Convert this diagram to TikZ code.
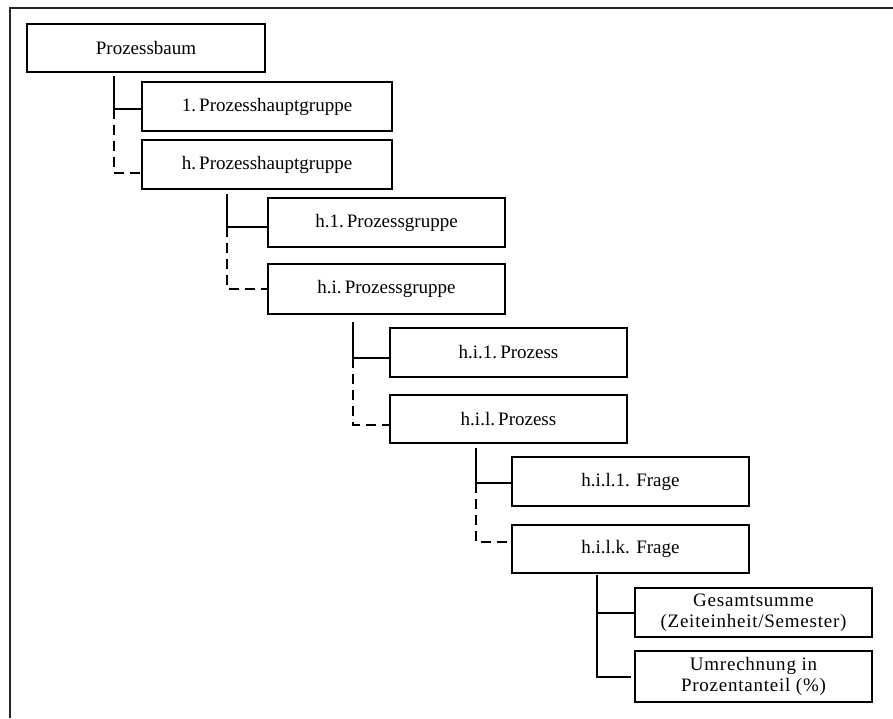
\documentclass[tikz,border=0pt]{standalone}
\usepackage{fontspec}
\setmainfont{Liberation Serif}
\begin{document}
\begin{tikzpicture}[x=1pt,y=-1pt,
  box/.style={draw, line width=1.3pt, inner sep=0pt, minimum width=237pt,
    minimum height=49pt, align=center, font=\fontsize{19}{21}\selectfont},
  wide/.style={minimum width=250pt},
  spaced/.style={font=\fontsize{19}{20.5}\selectfont\addfontfeature{LetterSpace=4}},
  link/.style={line width=1.3pt},
  dlink/.style={line width=1.3pt, dash pattern=on 10pt off 6pt},
  frame/.style={line width=2pt, draw=black!85}]
\useasboundingbox (0,0) rectangle (893,718);
% outer frame (top and left edges)
\draw[frame] (893,8) -- (10,8) -- (10,718);

% tree nodes
\node[box, minimum width=238pt, minimum height=48pt] (root) at (146,48) {Prozessbaum};
\node[box, wide] (g1) at (267,106.5) {1.\,Prozesshauptgruppe};
\node[box, wide] (gh) at (267,164.5) {h.\,Prozesshauptgruppe};
\node[box] (pg1) at (386.5,222.5) {h.1.\,Prozessgruppe};
\node[box, minimum height=50pt] (pgi) at (386.5,289) {h.i.\,Prozessgruppe};
\node[box] (p1) at (508.5,352.5) {h.i.1.\,Prozess};
\node[box, minimum height=48pt] (pl) at (508.5,419) {h.i.l.\,Prozess};
\node[box] (f1) at (630.5,481.5) {h.i.l.1. Frage};
\node[box, minimum height=48pt] (fk) at (630.5,549) {h.i.l.k. Frage};
\node[box, spaced] (ges) at (753.5,612.5) {Gesamtsumme\\(Zeiteinheit/Semester)};
\node[box, spaced, minimum height=51pt] (um) at (753.5,676.5) {Umrechnung in\\Prozentanteil (\%)};

% trunk points
\coordinate (t0) at (114,76);  \coordinate (a0) at (114,109); \coordinate (b0) at (114,173);
\coordinate (t1) at (227,194); \coordinate (a1) at (227,227); \coordinate (b1) at (227,289);
\coordinate (t2) at (353,322); \coordinate (a2) at (353,358); \coordinate (b2) at (353,425);
\coordinate (t3) at (476,448); \coordinate (a3) at (476,483); \coordinate (b3) at (476,542);
\coordinate (t4) at (597,575); \coordinate (a4) at (597,613); \coordinate (b4) at (597,677);

% connectors
\draw[link] (t0) -- (a0) -- (a0 -| g1.west);
\draw[dlink] (a0) -- (b0) -- (b0 -| gh.west);
\draw[link] (t1) -- (a1) -- (a1 -| pg1.west);
\draw[dlink] (a1) -- (b1) -- (b1 -| pgi.west);
\draw[link] (t2) -- (a2) -- (a2 -| p1.west);
\draw[dlink] (a2) -- (b2) -- (b2 -| pl.west);
\draw[link] (t3) -- (a3) -- (a3 -| f1.west);
\draw[dlink] (a3) -- (b3) -- (b3 -| fk.west);
\draw[link] (t4) -- (a4) -- (a4 -| ges.west);
\draw[link] (a4) -- (b4) -- ([xshift=-3pt]b4 -| um.west);
\end{tikzpicture}
\end{document}
